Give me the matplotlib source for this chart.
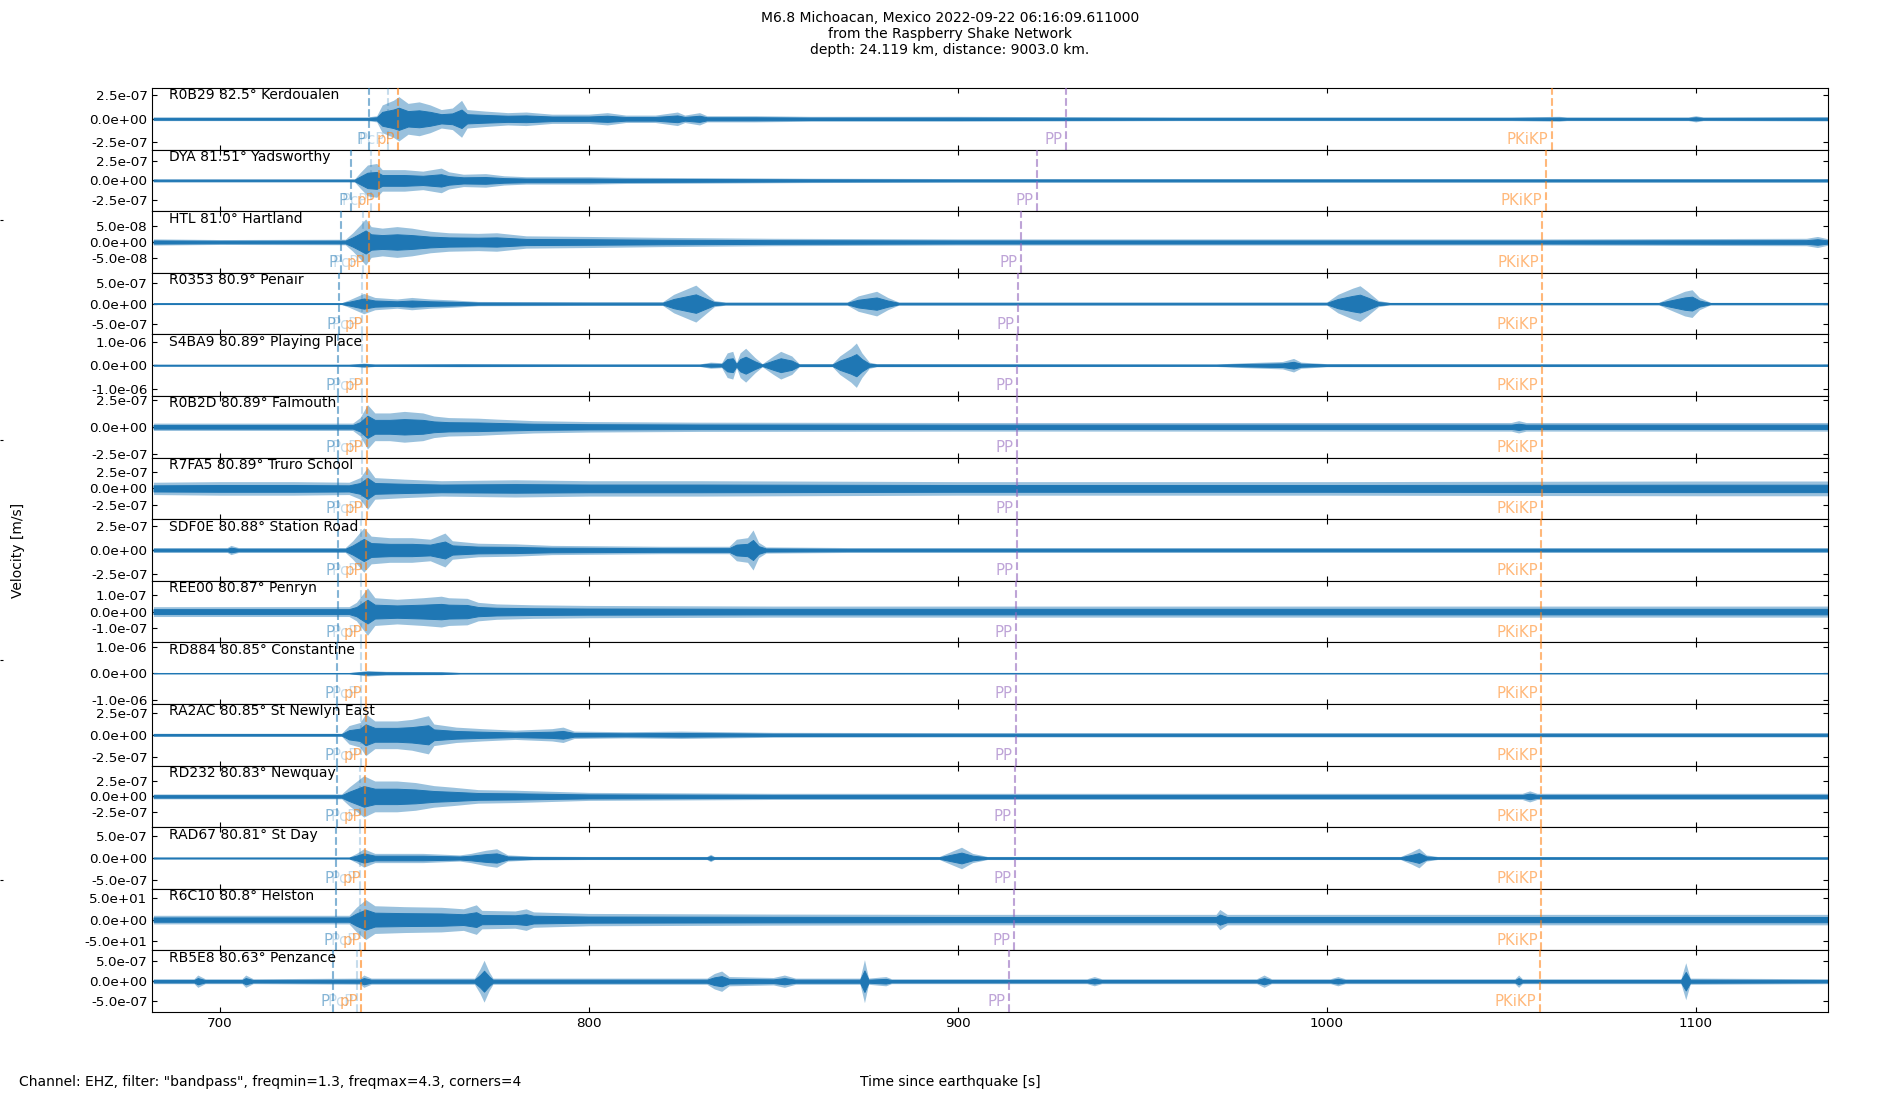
import matplotlib
matplotlib.use("Agg")
import matplotlib.pyplot as plt

# ---------------- data ----------------
title_lines = ["M6.8 Michoacan, Mexico 2022-09-22 06:16:09.611000",
               "from the Raspberry Shake Network",
               "depth: 24.119 km, distance: 9003.0 km."]
footer = 'Channel: EHZ, filter: "bandpass", freqmin=1.3, freqmax=4.3, corners=4'

stations = ["R0B29", "DYA", "HTL", "R0353", "S4BA9", "R0B2D", "R7FA5", "SDF0E",
            "REE00", "RD884", "RA2AC", "RD232", "RAD67", "R6C10", "RB5E8"]
distances = [82.5, 81.51, 81.0, 80.9, 80.89, 80.89, 80.89, 80.88,
             80.87, 80.85, 80.85, 80.83, 80.81, 80.8, 80.63]
places = ["Kerdoualen", "Yadsworthy", "Hartland", "Penair", "Playing Place",
          "Falmouth", "Truro School", "Station Road", "Penryn", "Constantine",
          "St Newlyn East", "Newquay", "St Day", "Helston", "Penzance"]
# y tick value (+/-) and y-axis half range per trace
tick_vals = [2.5e-7, 2.5e-7, 5e-8, 5e-7, 1e-6, 2.5e-7, 2.5e-7, 2.5e-7,
             1e-7, 1e-6, 2.5e-7, 2.5e-7, 5e-7, 5e1, 5e-7]
half_ranges = [3.3e-7, 3.87e-7, 9.5e-8, 7.6e-7, 1.32e-6, 2.85e-7, 4.57e-7, 3.15e-7,
               1.83e-7, 1.17e-6, 3.5e-7, 4.95e-7, 6.95e-7, 72.5, 7.8e-7]

# phase arrival times [s]
phase_names = ["P", "PcP", "pP", "PP", "PKiKP"]
t_P = [740.5, 735.4, 732.8, 732.2, 732.1, 732.1, 732.1, 732.0, 731.9, 731.8, 731.8, 731.7, 731.6, 731.5, 730.6]
t_PcP = [745.6, 740.9, 738.7, 738.4, 738.4, 738.4, 738.4, 738.3, 738.3, 738.2, 738.2, 738.1, 738.0, 738.0, 737.1]
t_pP = [748.3, 743.1, 740.3, 739.8, 739.8, 739.8, 739.8, 739.7, 739.6, 739.5, 739.5, 739.4, 739.3, 739.2, 738.3]
t_PP = [929.4, 921.4, 917.1, 916.2, 916.1, 916.1, 916.1, 916.0, 915.9, 915.8, 915.8, 915.6, 915.4, 915.3, 913.9]
t_PKiKP = [1061.0, 1059.3, 1058.4, 1058.3, 1058.3, 1058.3, 1058.3, 1058.2, 1058.2, 1058.2, 1058.2, 1058.1, 1058.1, 1058.1, 1057.8]

# waveform envelopes: (time [s], peak amplitude as fraction of half range)
R0B29_t = [682, 740, 742.5, 744, 747, 748.5, 751, 754, 757, 760, 763, 765.5, 767, 772, 778, 783, 790, 800, 805, 810, 818, 824, 826, 830, 832, 845, 860, 880, 900, 930, 960, 1000, 1050, 1063, 1065, 1098, 1100, 1102, 1136]
R0B29_a = [0.06, 0.06, 0.1, 0.45, 0.6, 0.72, 0.5, 0.55, 0.45, 0.3, 0.35, 0.6, 0.3, 0.25, 0.2, 0.22, 0.15, 0.15, 0.2, 0.12, 0.12, 0.22, 0.12, 0.2, 0.1, 0.1, 0.08, 0.08, 0.08, 0.07, 0.06, 0.06, 0.06, 0.08, 0.06, 0.06, 0.1, 0.06, 0.07]
DYA_t = [682, 736.5, 738, 740, 742.5, 744, 750, 755, 760, 762, 766, 772, 777, 783, 800, 810, 830, 860, 900, 1136]
DYA_a = [0.05, 0.05, 0.25, 0.5, 0.55, 0.35, 0.35, 0.3, 0.4, 0.28, 0.2, 0.22, 0.15, 0.12, 0.12, 0.1, 0.09, 0.07, 0.06, 0.06]
HTL_t = [682, 700, 734, 736, 738, 739.5, 741, 744, 748, 752, 757, 762, 770, 775, 783, 800, 820, 850, 900, 1000, 1060, 1130, 1133, 1136]
HTL_a = [0.1, 0.08, 0.09, 0.3, 0.55, 0.75, 0.5, 0.45, 0.5, 0.45, 0.35, 0.3, 0.28, 0.3, 0.2, 0.18, 0.15, 0.12, 0.1, 0.1, 0.1, 0.12, 0.18, 0.1]
R0353_t = [682, 733, 735, 739, 742, 748, 752, 757, 763, 770, 800, 820, 823, 826, 829, 831, 834, 837, 870, 873, 878, 881, 884, 1000, 1003, 1007, 1009, 1011, 1014, 1017, 1090, 1093, 1097, 1099, 1101, 1104, 1136]
R0353_a = [0.03, 0.03, 0.12, 0.33, 0.2, 0.15, 0.2, 0.15, 0.12, 0.07, 0.06, 0.06, 0.3, 0.45, 0.6, 0.4, 0.1, 0.05, 0.05, 0.25, 0.4, 0.2, 0.05, 0.05, 0.3, 0.5, 0.58, 0.4, 0.1, 0.04, 0.04, 0.2, 0.4, 0.45, 0.2, 0.04, 0.04]
S4BA9_t = [682, 735, 739, 742, 765, 800, 830, 833, 836, 837.5, 839, 840, 841, 842.5, 845, 847, 850, 852, 855, 857, 866, 868, 871, 872.5, 874, 876, 878, 970, 978, 988, 991, 993, 1000, 1136]
S4BA9_a = [0.03, 0.03, 0.07, 0.04, 0.05, 0.04, 0.04, 0.1, 0.08, 0.4, 0.45, 0.08, 0.4, 0.55, 0.25, 0.05, 0.3, 0.45, 0.3, 0.05, 0.05, 0.3, 0.55, 0.72, 0.4, 0.1, 0.05, 0.04, 0.08, 0.12, 0.22, 0.1, 0.05, 0.04]
R0B2D_t = [682, 736, 738, 740, 742, 746, 750, 755, 758, 762, 770, 775, 785, 800, 830, 900, 1050, 1052, 1054, 1136]
R0B2D_a = [0.12, 0.12, 0.3, 0.72, 0.45, 0.45, 0.5, 0.45, 0.35, 0.3, 0.28, 0.25, 0.2, 0.17, 0.15, 0.14, 0.14, 0.2, 0.14, 0.14]
R7FA5_t = [682, 700, 720, 735, 738, 740, 742, 750, 760, 780, 800, 830, 900, 1000, 1100, 1136]
R7FA5_a = [0.2, 0.22, 0.22, 0.2, 0.35, 0.68, 0.35, 0.3, 0.25, 0.28, 0.25, 0.25, 0.22, 0.22, 0.24, 0.24]
SDF0E_t = [682, 702, 703, 705, 734, 736, 739, 741, 746, 752, 757, 761, 763, 770, 780, 790, 820, 838, 840, 843, 844.5, 846, 848, 870, 1136]
SDF0E_a = [0.08, 0.08, 0.15, 0.08, 0.08, 0.3, 0.72, 0.45, 0.4, 0.4, 0.35, 0.55, 0.3, 0.22, 0.2, 0.15, 0.12, 0.12, 0.35, 0.4, 0.65, 0.25, 0.1, 0.08, 0.08]
REE00_t = [682, 735, 737, 740, 742, 748, 755, 760, 762, 767, 770, 775, 785, 800, 850, 1136]
REE00_a = [0.16, 0.16, 0.3, 0.77, 0.45, 0.4, 0.45, 0.5, 0.45, 0.43, 0.3, 0.25, 0.22, 0.2, 0.18, 0.18]
RD884_t = [682, 735, 738, 740, 745, 760, 765, 1136]
RD884_a = [0.015, 0.015, 0.06, 0.09, 0.06, 0.05, 0.02, 0.015]
RA2AC_t = [682, 733, 735, 738, 739.5, 742, 748, 752, 756.5, 758, 764, 771, 780, 790, 793, 796, 810, 825, 850, 900, 1136]
RA2AC_a = [0.05, 0.05, 0.3, 0.4, 0.68, 0.45, 0.45, 0.5, 0.62, 0.35, 0.25, 0.2, 0.15, 0.2, 0.25, 0.12, 0.1, 0.12, 0.08, 0.07, 0.07]
RD232_t = [682, 733, 735, 739, 742, 748, 753, 758, 763, 770, 780, 800, 850, 900, 1000, 1053, 1055, 1057, 1136]
RD232_a = [0.08, 0.08, 0.3, 0.67, 0.5, 0.5, 0.45, 0.35, 0.3, 0.22, 0.2, 0.13, 0.1, 0.1, 0.1, 0.1, 0.18, 0.1, 0.1]
RAD67_t = [682, 735, 737, 739, 742, 755, 765, 768, 772, 775, 778, 785, 800, 832, 833, 834, 895, 898, 901, 904, 908, 1020, 1023, 1025, 1027, 1030, 1136]
RAD67_a = [0.03, 0.03, 0.15, 0.3, 0.15, 0.15, 0.1, 0.15, 0.25, 0.3, 0.1, 0.06, 0.05, 0.05, 0.12, 0.05, 0.05, 0.2, 0.35, 0.15, 0.05, 0.05, 0.2, 0.32, 0.1, 0.05, 0.04]
R6C10_t = [682, 735, 737, 739.5, 742, 750, 760, 766, 769.5, 771, 780, 783, 785, 800, 850, 900, 970, 971, 973, 1136]
R6C10_a = [0.14, 0.14, 0.4, 0.65, 0.45, 0.42, 0.4, 0.35, 0.48, 0.3, 0.28, 0.35, 0.25, 0.2, 0.18, 0.17, 0.17, 0.33, 0.17, 0.17]
RB5E8_t = [682, 693, 694, 696, 706, 707, 709, 738, 739, 741, 769, 770.5, 771.6, 773, 774, 832, 834, 836, 838, 850, 853, 856, 873.5, 874.7, 875.8, 880.5, 882, 935, 937, 939, 981, 983, 985, 1001, 1003, 1005, 1051, 1052, 1053, 1096, 1097.3, 1098.5, 1136]
RB5E8_a = [0.08, 0.08, 0.2, 0.08, 0.08, 0.2, 0.08, 0.1, 0.2, 0.1, 0.1, 0.4, 0.68, 0.3, 0.1, 0.1, 0.25, 0.33, 0.15, 0.12, 0.2, 0.1, 0.1, 0.7, 0.1, 0.15, 0.08, 0.08, 0.15, 0.08, 0.08, 0.2, 0.08, 0.08, 0.15, 0.08, 0.08, 0.2, 0.08, 0.08, 0.6, 0.1, 0.08]

env_times = [R0B29_t, DYA_t, HTL_t, R0353_t, S4BA9_t, R0B2D_t, R7FA5_t, SDF0E_t,
             REE00_t, RD884_t, RA2AC_t, RD232_t, RAD67_t, R6C10_t, RB5E8_t]
env_amps = [R0B29_a, DYA_a, HTL_a, R0353_a, S4BA9_a, R0B2D_a, R7FA5_a, SDF0E_a,
            REE00_a, RD884_a, RA2AC_a, RD232_a, RAD67_a, R6C10_a, RB5E8_a]

x_range = (681.7, 1135.8)
x_ticks = [700, 800, 900, 1000, 1100]

# ---------------- styles ----------------
trace_color = "#1f77b4"
core_share = 0.5          # dense core of the trace, relative to peak envelope
phase_style = {
    "P": ("#1f77b4", 0.55),
    "PcP": ("#1f77b4", 0.25),
    "pP": ("#ff7f0e", 0.6),
    "PP": ("#9467bd", 0.6),
    "PKiKP": ("#ff7f0e", 0.55),
}
phase_times = [t_P, t_PcP, t_pP, t_PP, t_PKiKP]

plt.rcParams["font.family"] = ["DejaVu Sans"]
fig, axes = plt.subplots(len(stations), 1, sharex=True, figsize=(19, 11), dpi=100)
fig.subplots_adjust(left=0.0802, right=0.962, top=0.92, bottom=0.08, hspace=0)

for i, ax in enumerate(axes):
    hr = half_ranges[i]
    upper = [a * hr for a in env_amps[i]]
    lower = [-a * hr for a in env_amps[i]]
    core_up = [a * hr * core_share for a in env_amps[i]]
    core_lo = [-a * hr * core_share for a in env_amps[i]]
    ax.fill_between(env_times[i], lower, upper, color=trace_color, alpha=0.45, lw=0, zorder=2)
    ax.fill_between(env_times[i], core_lo, core_up, color=trace_color, lw=0.7, zorder=2)
    ax.set_ylim(-hr, hr)
    tv = tick_vals[i]
    ax.set_yticks([-tv, 0, tv])
    ax.set_yticklabels(["%.1e" % v for v in (-tv, 0.0, tv)], fontsize=9.7)
    ax.tick_params(direction="in", top=True, right=True, labelsize=9.7)
    ax.text(0.01, 0.995, "%s %s\u00b0 %s" % (stations[i], distances[i], places[i]),
            transform=ax.transAxes, ha="left", va="top", fontsize=10, zorder=5)
    for name, times in zip(phase_names, phase_times):
        col, alp = phase_style[name]
        t = times[i]
        ax.axvline(t, color=col, alpha=alp, ls="--", lw=1.5, zorder=3)
        ax.annotate(name, (t, 0), xycoords=("data", "axes fraction"),
                    xytext=(-2.5, 2.0), textcoords="offset points",
                    ha="right", va="bottom", color=col, alpha=alp, fontsize=10.7, zorder=4)

axes[-1].set_xlim(*x_range)
axes[-1].set_xticks(x_ticks)
axes[-1].tick_params(axis="x", labelsize=9.7)

fig.suptitle("\n".join(title_lines), fontsize=10, y=0.99, va="top")
fig.text(0.01, 0.0166, footer, ha="left", va="center", fontsize=10)
fig.text(0.5, 0.0166, "Time since earthquake [s]", ha="center", va="center", fontsize=10)
fig.text(0.0095, 0.5, "Velocity [m/s]", rotation=90, ha="center", va="center", fontsize=10)

# faint edge ticks of the background frame
bg = fig.add_axes([0, 0, 1, 1], zorder=-5)
bg.patch.set_visible(False)
for s in bg.spines.values():
    s.set_visible(False)
bg.set_xticks([])
bg.set_yticks([0.2, 0.4, 0.6, 0.8])
bg.tick_params(axis="y", direction="in", length=2, labelleft=False)

fig.savefig("out.png", dpi=100)
